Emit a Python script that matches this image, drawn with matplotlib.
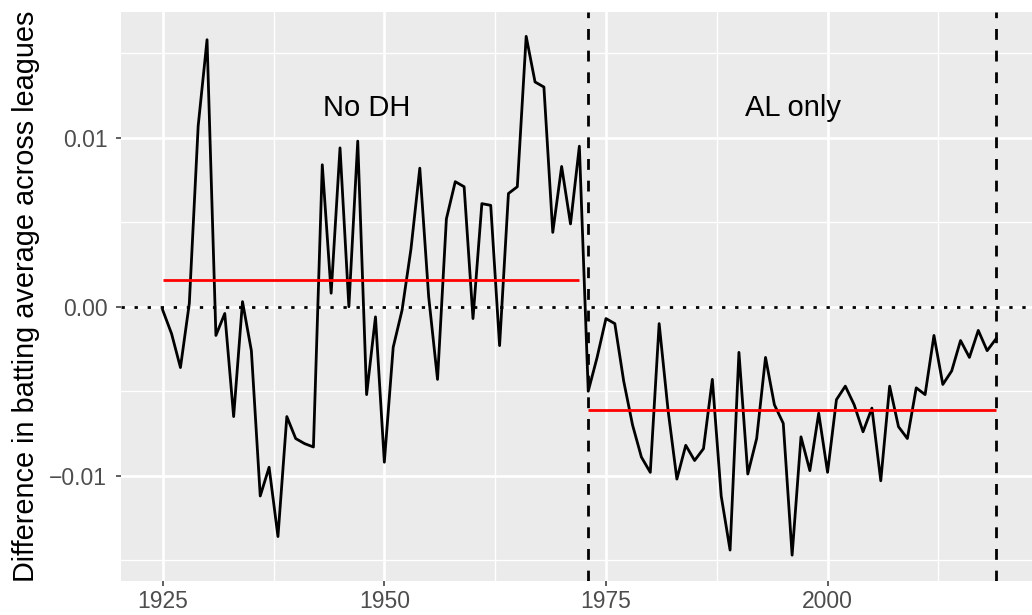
import matplotlib
matplotlib.use("Agg")
import matplotlib.pyplot as plt
import numpy as np

plt.rcParams['font.family'] = ['Liberation Sans', 'DejaVu Sans']

# yearly difference in batting average (AL - NL)
years = list(range(1925, 2020))
diff = [
  -0.0002, -0.0016, -0.0036, 0.0002, 0.0107, 0.0158, -0.0017, -0.0004, -0.0065, 0.0003,  # 1925-1934
  -0.0026, -0.0112, -0.0095, -0.0136, -0.0065, -0.0078, -0.0081, -0.0083, 0.0084, 0.0008,  # 1935-1944
  0.0094, 0.0000, 0.0098, -0.0052, -0.0006, -0.0092, -0.0024, -0.0002, 0.0034, 0.0082,  # 1945-1954
  0.0006, -0.0043, 0.0052, 0.0074, 0.0071, -0.0007, 0.0061, 0.0060, -0.0023, 0.0067,  # 1955-1964
  0.0071, 0.0160, 0.0133, 0.0130, 0.0044, 0.0083, 0.0049, 0.0095, -0.0050, -0.0030,  # 1965-1974
  -0.0007, -0.0010, -0.0044, -0.0070, -0.0089, -0.0098, -0.0010, -0.0061, -0.0102, -0.0082,  # 1975-1984
  -0.0091, -0.0084, -0.0043, -0.0112, -0.0144, -0.0027, -0.0099, -0.0078, -0.0030, -0.0058,  # 1985-1994
  -0.0069, -0.0147, -0.0077, -0.0097, -0.0063, -0.0098, -0.0055, -0.0047, -0.0058, -0.0074,  # 1995-2004
  -0.0060, -0.0103, -0.0047, -0.0071, -0.0078, -0.0048, -0.0052, -0.0017, -0.0046, -0.0038,  # 2005-2014
  -0.0020, -0.0030, -0.0014, -0.0026, -0.0019,  # 2015-2019
]

no_dh_mean = 0.00158
al_only_mean = -0.0061
dh_start = 1973
last_year = 2019

era_labels = ['No DH', 'AL only']
era_label_x = [1948.0, 1996.1]
era_label_y = 0.0113

x_ticks = [1925, 1950, 1975, 2000]
x_minor = [1937.5, 1962.5, 1987.5, 2012.5]
y_ticks = [-0.01, 0.0, 0.01]
y_minor = [-0.015, -0.005, 0.005, 0.015]
y_tick_labels = ['\u22120.01', '0.00', '0.01']

W, H = 1032, 615
fig = plt.figure(figsize=(W / 100, H / 100), dpi=100)
ax = fig.add_axes([120.7 / W, 34 / H, (W - 120.7) / W, (581 - 12) / H])
ax.set_facecolor('#EBEBEB')
for s in ax.spines.values():
  s.set_visible(False)

ax.set_xticks(x_ticks)
ax.set_xticks(x_minor, minor=True)
ax.set_yticks(y_ticks)
ax.set_yticks(y_minor, minor=True)
ax.set_yticklabels(y_tick_labels)
ax.grid(which='major', color='white', lw=1.9)
ax.grid(which='minor', color='white', lw=0.95)
ax.set_axisbelow(True)
ax.tick_params(which='major', length=3.6, width=1.1, color='#333333',
               labelcolor='#4D4D4D', labelsize=16.5)
ax.tick_params(which='minor', length=0)
ax.tick_params(axis='x', pad=3.0)
ax.tick_params(axis='y', pad=6)

lw = 2.0
ax.axhline(0, color='black', lw=lw, linestyle=(0, (1.2, 3.5)), zorder=2)
ax.plot(years, diff, color='black', lw=lw, zorder=3)
ax.hlines(no_dh_mean, years[0], dh_start - 1, color='red', lw=lw, zorder=4)
ax.hlines(al_only_mean, dh_start, last_year, color='red', lw=lw, zorder=4)
for xv in [dh_start, last_year]:
  ax.axvline(xv, color='black', lw=lw, linestyle=(0, (3.9, 3.9)), zorder=5)

for lab, xv in zip(era_labels, era_label_x):
  ax.text(xv, era_label_y, lab, ha='center', va='baseline', fontsize=21, color='black')

ax.set_xlim(1920.26, 2023.06)
ax.set_ylim(-0.01623, 0.01744)

fig.text(34 / W, 1 - 296 / H, 'Difference in batting average across leagues',
         rotation=90, rotation_mode='anchor', ha='center', va='baseline',
         fontsize=20.8, color='black')

fig.savefig('out.png', dpi=100)
